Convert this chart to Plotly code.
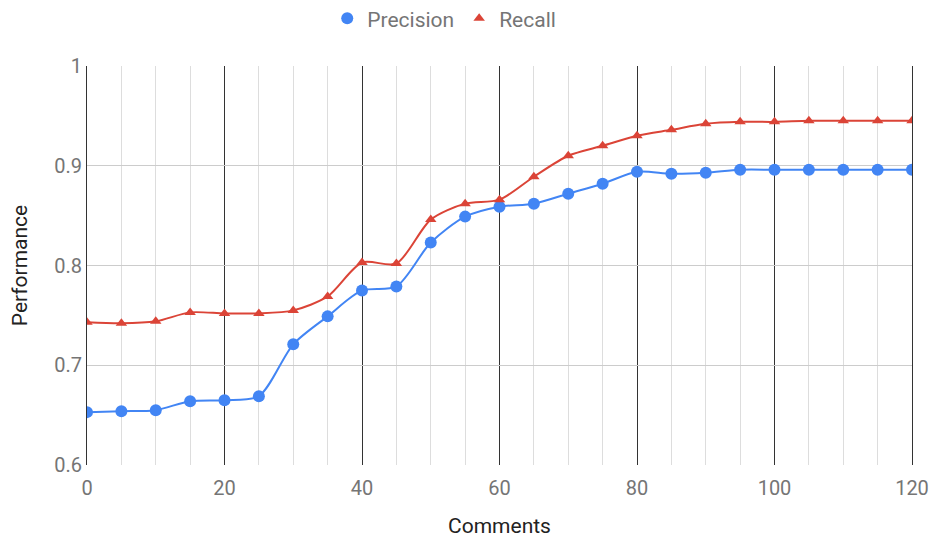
import plotly.graph_objects as go

comments = [0, 5, 10, 15, 20, 25, 30, 35, 40, 45, 50, 55, 60, 65, 70, 75, 80, 85, 90, 95, 100, 105, 110, 115, 120]
precision = [0.653, 0.654, 0.655, 0.664, 0.665, 0.669, 0.721, 0.749, 0.775, 0.779, 0.823, 0.849, 0.859, 0.862,
             0.872, 0.882, 0.894, 0.892, 0.893, 0.896, 0.896, 0.896, 0.896, 0.896, 0.896]
recall = [0.743, 0.742, 0.744, 0.753, 0.752, 0.752, 0.755, 0.769, 0.803, 0.802, 0.846, 0.862, 0.866, 0.889,
          0.910, 0.920, 0.930, 0.936, 0.942, 0.944, 0.944, 0.945, 0.945, 0.945, 0.945]
x_ticks = [0, 20, 40, 60, 80, 100, 120]
y_ticks = [0.6, 0.7, 0.8, 0.9, 1.0]
y_tick_labels = ["0.6", "0.7", "0.8", "0.9", "1"]

FONT = "Roboto, Arial, sans-serif"
series = [("Precision", precision, "#4285F4", "circle", 12),
          ("Recall", recall, "#DB4437", "triangle-up", 10)]

fig = go.Figure()
for name, vals, color, sym, msize in series:
    fig.add_trace(go.Scatter(
        x=comments, y=vals, name=name, mode="lines", legendgroup=name, showlegend=False,
        line=dict(color=color, width=2, shape="spline", smoothing=0.8), hoverinfo="skip",
    ))
for name, vals, color, sym, msize in series:
    fig.add_trace(go.Scatter(
        x=comments, y=vals, name=name, mode="markers", legendgroup=name,
        marker=dict(symbol=sym, size=msize, color=color),
    ))

fig.update_layout(
    width=930, height=530,
    margin=dict(l=79, r=26, t=58, b=73, autoexpand=False),
    paper_bgcolor="white", plot_bgcolor="white",
    font=dict(family=FONT, size=20, color="#222222"),
    legend=dict(orientation="h", x=0.433, xanchor="center", y=1.170, yanchor="top",
                yref="paper", font=dict(size=21, color="#757575"),
                itemwidth=30, tracegroupgap=0),
    xaxis=dict(
        range=[0, 120], tickmode="array", tickvals=x_ticks, ticktext=[str(t) for t in x_ticks],
        showgrid=True, gridcolor="#333333", gridwidth=1,
        minor=dict(dtick=5, showgrid=True, gridcolor="#dddddd", gridwidth=1),
        zeroline=False, showline=False, ticks="", automargin=False, ticklabelstandoff=9,
        tickfont=dict(size=20, color="#757575"),
        title=dict(text="Comments", font=dict(size=21, color="#222222"), standoff=29),
    ),
    yaxis=dict(
        range=[0.6, 1.0], tickmode="array", tickvals=y_ticks, ticktext=y_tick_labels,
        showgrid=True, gridcolor="#cccccc", gridwidth=1,
        zeroline=False, showline=True, linecolor="#333333", mirror=True, ticks="", automargin=False,
        tickfont=dict(size=20, color="#757575"),
        title=dict(text="Performance", font=dict(size=21, color="#222222"), standoff=31),
    ),
)

fig.write_html("out.html")
